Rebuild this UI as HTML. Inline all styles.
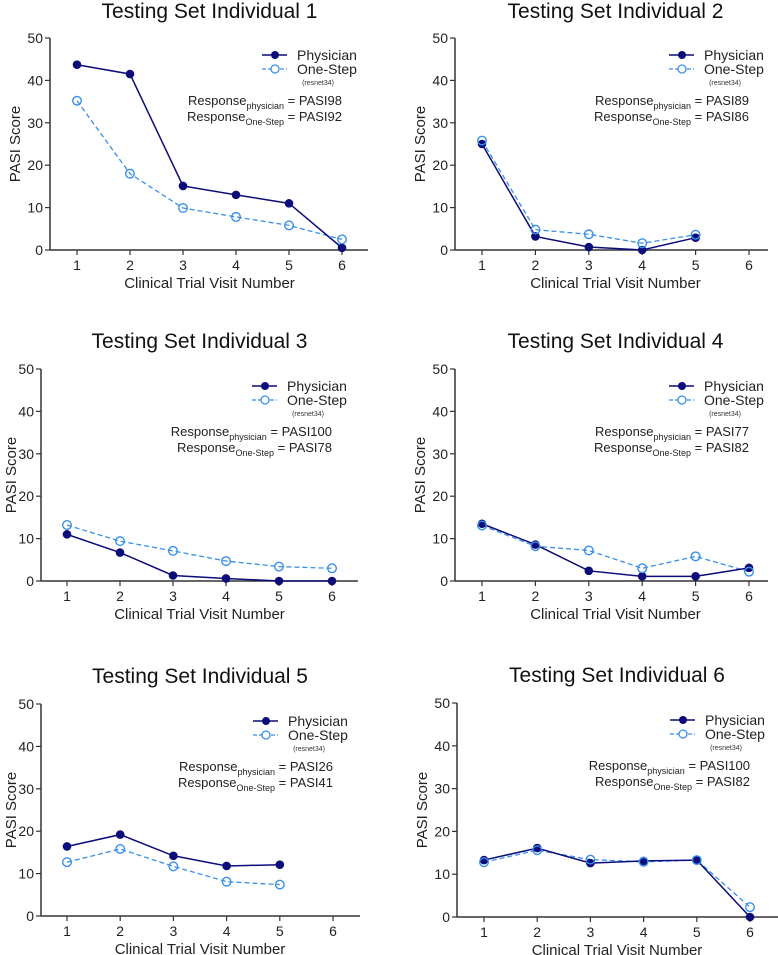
<!DOCTYPE html>
<html><head><meta charset="utf-8">
<style>
body{margin:0;background:#fff;}
svg{display:block;font-family:"Liberation Sans",sans-serif;}
</style></head>
<body>
<svg id="chart" width="778" height="955"></svg>
<script>
const visits = [1,2,3,4,5,6];
const yTicks = [0,10,20,30,40,50];
const titles = ["Testing Set Individual 1","Testing Set Individual 2","Testing Set Individual 3","Testing Set Individual 4","Testing Set Individual 5","Testing Set Individual 6"];
const physician1 = [43.7,41.5,15.1,13,11,0.5];
const onestep1 = [35.2,18,9.9,7.8,5.8,2.5];
const physician2 = [25,3.2,0.7,0,2.9];
const onestep2 = [25.8,4.8,3.7,1.6,3.6];
const physician3 = [11,6.7,1.3,0.6,0,0];
const onestep3 = [13.2,9.4,7.1,4.7,3.4,3.0];
const physician4 = [13.5,8.6,2.4,1.1,1.1,3.1];
const onestep4 = [13.1,8.2,7.2,3.0,5.8,2.2];
const physician5 = [16.4,19.2,14.2,11.8,12.1];
const onestep5 = [12.7,15.8,11.7,8.1,7.4];
const physician6 = [13.3,16.1,12.6,13.1,13.3,0];
const onestep6 = [12.8,15.6,13.4,12.9,13.3,2.3];
const respPhys = ["PASI98","PASI89","PASI100","PASI77","PASI26","PASI100"];
const respOS = ["PASI92","PASI86","PASI78","PASI82","PASI41","PASI82"];
const physSeries=[physician1,physician2,physician3,physician4,physician5,physician6];
const osSeries=[onestep1,onestep2,onestep3,onestep4,onestep5,onestep6];

const layouts=[
 {ax:50,top:38,bot:250,x1:77,x6:342,end:368,ty:18,yt:20},
 {ax:455,top:38,bot:250,x1:482,x6:749,end:768,ty:18,yt:425},
 {ax:41,top:369,bot:581,x1:67,x6:332,end:358,ty:348,yt:16},
 {ax:455,top:369,bot:581,x1:482,x6:749,end:768,ty:348,yt:425},
 {ax:41,top:704,bot:916,x1:67,x6:333,end:360,ty:683,yt:16},
 {ax:457,top:703,bot:917,x1:484,x6:750,end:778,ty:682,yt:427}
];
const NS="http://www.w3.org/2000/svg";
const svg=document.getElementById('chart');
function mk(tag,attrs,parent,text){const e=document.createElementNS(NS,tag);for(const k in attrs)e.setAttribute(k,attrs[k]);if(text!==undefined)e.textContent=text;parent.appendChild(e);return e;}
const PH="#0c0c7a", OS="#3a8fe8";
layouts.forEach((L,i)=>{
  const g=mk('g',{},svg);
  
  
  const xs=v=>L.x1+(v-1)*(L.x6-L.x1)/5;
  const ys=v=>L.bot-v*(L.bot-L.top)/50;
  const t=mk('text',{x:(L.x1+L.x6)/2,y:L.ty,'text-anchor':'middle','font-size':21,fill:'#111'},g,titles[i]);
  
  
  const ya=mk('line',{x1:L.ax,y1:L.top,x2:L.ax,y2:L.bot,stroke:'#333','stroke-width':1.5},g);
  
  
  const xa=mk('line',{x1:L.ax,y1:L.bot,x2:L.end,y2:L.bot,stroke:'#333','stroke-width':1.5},g);
  
  
  yTicks.forEach(v=>{
    mk('line',{x1:L.ax-5,y1:ys(v),x2:L.ax,y2:ys(v),stroke:'#333','stroke-width':1.2},g);
    const tl=mk('text',{x:L.ax-7,y:ys(v)+5,'text-anchor':'end','font-size':14,fill:'#222'},g,String(v));
    
    
  });
  visits.forEach(v=>{
    mk('line',{x1:xs(v),y1:L.bot,x2:xs(v),y2:L.bot+5,stroke:'#333','stroke-width':1.2},g);
    const tl=mk('text',{x:xs(v),y:L.bot+20,'text-anchor':'middle','font-size':14,fill:'#222'},g,String(v));
    
    
  });
  const xl=mk('text',{x:(L.x1+L.x6)/2,y:L.bot+38,'text-anchor':'middle','font-size':15,fill:'#222'},g,'Clinical Trial Visit Number');
  
  
  const ym=(L.top+L.bot)/2, yx=L.yt;
  const yl=mk('text',{x:yx,y:ym,'text-anchor':'middle','font-size':15,fill:'#222',transform:`rotate(-90 ${yx} ${ym})`},g,'PASI Score');
  
  
  const os=osSeries[i], ph=physSeries[i];
  const osl=mk('polyline',{points:os.map((v,k)=>xs(k+1)+','+ys(v)).join(' '),fill:'none',stroke:OS,'stroke-width':1.3,'stroke-dasharray':'5,3'},g);
  
  
  const phl=mk('polyline',{points:ph.map((v,k)=>xs(k+1)+','+ys(v)).join(' '),fill:'none',stroke:PH,'stroke-width':1.5},g);
  
  
  ph.forEach((v,k)=>{
    const c=mk('circle',{cx:xs(k+1),cy:ys(v),r:4.3,fill:PH},g);
    
    
  });
  os.forEach((v,k)=>{
    const c=mk('circle',{cx:xs(k+1),cy:ys(v),r:4.3,fill:'none',stroke:OS,'stroke-width':1.4},g);
    
    
  });
  const R=L.x6, T=L.top;
  const lg=mk('g',{},g);
  
  
  mk('line',{x1:R-80,y1:T+17,x2:R-55,y2:T+17,stroke:PH,'stroke-width':1.5},lg);
  mk('circle',{cx:R-67,cy:T+17,r:4,fill:PH},lg);
  mk('text',{x:R-45,y:T+22,'font-size':14,fill:'#222'},lg,'Physician');
  mk('line',{x1:R-80,y1:T+31,x2:R-55,y2:T+31,stroke:OS,'stroke-width':1.3,'stroke-dasharray':'4,2'},lg);
  mk('circle',{cx:R-67,cy:T+31,r:4,fill:'#fff',stroke:OS,'stroke-width':1.3},lg);
  mk('text',{x:R-45,y:T+36,'font-size':14,fill:'#222'},lg,'One-Step');
  mk('text',{x:R-8,y:T+47,'font-size':7,fill:'#333','text-anchor':'end'},lg,'(resnet34)');
  const r1=mk('text',{x:R,y:T+67,'font-size':13,fill:'#222','text-anchor':'end'},lg);
  r1.innerHTML='Response<tspan font-size="9" dy="4">physician</tspan><tspan dy="-4"> = '+respPhys[i]+'</tspan>';
  const r2=mk('text',{x:R,y:T+83,'font-size':13,fill:'#222','text-anchor':'end'},lg);
  r2.innerHTML='Response<tspan font-size="9" dy="4">One-Step</tspan><tspan dy="-4"> = '+respOS[i]+'</tspan>';
});
</script>
</body></html>
